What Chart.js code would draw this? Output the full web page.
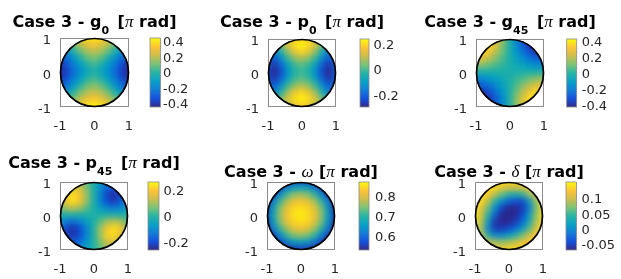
<!DOCTYPE html>
<html>
<head>
<meta charset="utf-8">
<script src="https://cdn.jsdelivr.net/npm/chart.js@4.4.1/dist/chart.umd.min.js"></script>
<style>
  html, body { margin: 0; padding: 0; background: #fff; }
  #wrap { position: relative; width: 621px; height: 279px; overflow: hidden; }
  .panel { position: absolute; }
</style>
</head>
<body>
<div id="wrap"></div>
<script>
// grid of the pupil samples (x left->right, y top->bottom), null = outside the pupil
const gridX = [-1, -0.8, -0.6, -0.4, -0.2, 0, 0.2, 0.4, 0.6, 0.8, 1];
const gridY = [1, 0.8, 0.6, 0.4, 0.2, 0, -0.2, -0.4, -0.6, -0.8, -1];
const axisTicks = [-1, 0, 1];
const n = null;

const g0Phase = [
  [n, n, n, 0.33, 0.42, 0.45, 0.42, 0.33, n, n, n],
  [n, 0.00, 0.13, 0.23, 0.31, 0.35, 0.31, 0.23, 0.13, 0.00, n],
  [n, -0.13, 0.00, 0.12, 0.20, 0.24, 0.20, 0.12, 0.00, -0.13, n],
  [-0.33, -0.23, -0.12, 0.00, 0.10, 0.14, 0.10, 0.00, -0.12, -0.23, -0.33],
  [-0.42, -0.31, -0.20, -0.10, 0.00, 0.06, 0.00, -0.10, -0.20, -0.31, -0.42],
  [-0.45, -0.35, -0.24, -0.14, -0.06, 0.00, -0.06, -0.14, -0.24, -0.35, -0.45],
  [-0.42, -0.31, -0.20, -0.10, 0.00, 0.06, 0.00, -0.10, -0.20, -0.31, -0.42],
  [-0.33, -0.23, -0.12, 0.00, 0.10, 0.14, 0.10, 0.00, -0.12, -0.23, -0.33],
  [n, -0.13, 0.00, 0.12, 0.20, 0.24, 0.20, 0.12, 0.00, -0.13, n],
  [n, 0.00, 0.13, 0.23, 0.31, 0.35, 0.31, 0.23, 0.13, 0.00, n],
  [n, n, n, 0.33, 0.42, 0.45, 0.42, 0.33, n, n, n]
];
const p0Phase = [
  [n, n, n, 0.08, 0.17, 0.19, 0.17, 0.08, n, n, n],
  [n, -0.05, 0.06, 0.16, 0.22, 0.25, 0.22, 0.16, 0.06, -0.05, n],
  [n, -0.14, -0.03, 0.08, 0.17, 0.21, 0.17, 0.08, -0.03, -0.14, n],
  [-0.15, -0.20, -0.11, 0.00, 0.07, 0.10, 0.07, 0.00, -0.11, -0.20, -0.15],
  [-0.19, -0.26, -0.18, -0.07, 0.00, 0.03, 0.00, -0.07, -0.18, -0.26, -0.19],
  [-0.20, -0.28, -0.22, -0.10, -0.02, 0.00, -0.02, -0.10, -0.22, -0.28, -0.20],
  [-0.19, -0.26, -0.18, -0.07, 0.00, 0.03, 0.00, -0.07, -0.18, -0.26, -0.19],
  [-0.15, -0.20, -0.11, 0.00, 0.07, 0.10, 0.07, 0.00, -0.11, -0.20, -0.15],
  [n, -0.14, -0.03, 0.08, 0.17, 0.21, 0.17, 0.08, -0.03, -0.14, n],
  [n, -0.05, 0.06, 0.16, 0.22, 0.25, 0.22, 0.16, 0.06, -0.05, n],
  [n, n, n, 0.08, 0.17, 0.19, 0.17, 0.08, n, n, n]
];
const g45Phase = [
  [n, n, n, 0.30, 0.16, 0.00, -0.15, -0.28, n, n, n],
  [n, 0.45, 0.40, 0.29, 0.15, 0.00, -0.14, -0.28, -0.37, -0.41, n],
  [n, 0.40, 0.33, 0.22, 0.11, 0.00, -0.11, -0.21, -0.31, -0.37, n],
  [0.30, 0.29, 0.22, 0.15, 0.07, 0.00, -0.07, -0.14, -0.21, -0.27, -0.28],
  [0.16, 0.15, 0.11, 0.07, 0.04, 0.00, -0.04, -0.07, -0.11, -0.14, -0.15],
  [0.00, 0.00, 0.00, 0.00, 0.00, 0.00, 0.00, 0.00, 0.00, 0.00, 0.00],
  [-0.15, -0.14, -0.11, -0.07, -0.04, 0.00, 0.04, 0.07, 0.11, 0.15, 0.16],
  [-0.28, -0.27, -0.21, -0.14, -0.07, 0.00, 0.07, 0.15, 0.22, 0.29, 0.30],
  [n, -0.37, -0.31, -0.21, -0.11, 0.00, 0.11, 0.22, 0.33, 0.40, n],
  [n, -0.41, -0.37, -0.28, -0.14, 0.00, 0.15, 0.29, 0.40, 0.45, n],
  [n, n, n, -0.28, -0.15, 0.00, 0.16, 0.30, n, n, n]
];
const p45Phase = [
  [n, n, n, 0.10, 0.05, 0.00, -0.05, -0.10, n, n, n],
  [n, 0.12, 0.17, 0.15, 0.08, 0.00, -0.08, -0.15, -0.18, -0.13, n],
  [n, 0.18, 0.24, 0.20, 0.10, 0.00, -0.10, -0.20, -0.24, -0.18, n],
  [0.10, 0.20, 0.25, 0.20, 0.10, 0.00, -0.10, -0.19, -0.22, -0.17, -0.10],
  [0.05, 0.12, 0.14, 0.11, 0.05, 0.00, -0.05, -0.10, -0.12, -0.10, -0.05],
  [0.00, 0.00, 0.00, 0.00, 0.00, 0.00, 0.00, 0.00, 0.00, 0.00, 0.00],
  [-0.05, -0.12, -0.13, -0.10, -0.05, 0.00, 0.05, 0.11, 0.13, 0.12, 0.05],
  [-0.12, -0.20, -0.23, -0.19, -0.10, 0.00, 0.10, 0.20, 0.24, 0.20, 0.10],
  [n, -0.20, -0.23, -0.19, -0.10, 0.00, 0.10, 0.22, 0.24, 0.17, n],
  [n, -0.13, -0.17, -0.14, -0.07, 0.00, 0.08, 0.15, 0.16, 0.12, n],
  [n, n, n, -0.10, -0.05, 0.00, 0.05, 0.10, n, n, n]
];
const omegaPhase = [
  [n, n, n, 0.55, 0.56, 0.57, 0.56, 0.55, n, n, n],
  [n, 0.55, 0.57, 0.63, 0.67, 0.68, 0.67, 0.63, 0.57, 0.55, n],
  [n, 0.57, 0.65, 0.72, 0.76, 0.77, 0.76, 0.72, 0.65, 0.57, n],
  [0.55, 0.63, 0.72, 0.78, 0.82, 0.83, 0.82, 0.78, 0.72, 0.63, 0.55],
  [0.56, 0.67, 0.76, 0.82, 0.85, 0.86, 0.85, 0.82, 0.76, 0.67, 0.56],
  [0.57, 0.68, 0.77, 0.83, 0.86, 0.87, 0.86, 0.83, 0.77, 0.68, 0.57],
  [0.56, 0.67, 0.76, 0.82, 0.85, 0.86, 0.85, 0.82, 0.76, 0.67, 0.56],
  [0.55, 0.63, 0.72, 0.78, 0.82, 0.83, 0.82, 0.78, 0.72, 0.63, 0.55],
  [n, 0.57, 0.65, 0.72, 0.76, 0.77, 0.76, 0.72, 0.65, 0.57, n],
  [n, 0.55, 0.57, 0.63, 0.67, 0.68, 0.67, 0.63, 0.57, 0.55, n],
  [n, n, n, 0.55, 0.56, 0.57, 0.56, 0.55, n, n, n]
];
const deltaPhase = [
  [n, n, n, 0.15, 0.15, 0.14, 0.14, 0.14, n, n, n],
  [n, 0.15, 0.15, 0.14, 0.12, 0.11, 0.11, 0.11, 0.13, 0.14, n],
  [n, 0.15, 0.13, 0.10, 0.07, 0.05, 0.04, 0.05, 0.08, 0.12, n],
  [0.15, 0.14, 0.10, 0.05, 0.01, -0.02, -0.03, -0.04, 0.01, 0.08, 0.14],
  [0.15, 0.12, 0.07, 0.01, -0.04, -0.06, -0.06, -0.05, -0.01, 0.07, 0.14],
  [0.15, 0.11, 0.05, -0.02, -0.06, -0.06, -0.06, -0.04, 0.01, 0.08, 0.14],
  [0.15, 0.10, 0.02, -0.05, -0.06, -0.06, -0.05, -0.02, 0.03, 0.09, 0.14],
  [0.14, 0.09, 0.00, -0.05, -0.05, -0.04, -0.02, 0.01, 0.06, 0.11, 0.14],
  [n, 0.10, 0.04, 0.00, 0.00, 0.02, 0.04, 0.07, 0.10, 0.13, n],
  [n, 0.13, 0.10, 0.09, 0.08, 0.09, 0.10, 0.12, 0.13, 0.14, n],
  [n, n, n, 0.13, 0.13, 0.14, 0.14, 0.14, n, n, n]
];

// colour limits and colorbar ticks
const g0Limits = [-0.43, 0.46];
const p0Limits = [-0.28, 0.25];
const g45Limits = [-0.41, 0.45];
const p45Limits = [-0.25, 0.27];
const omegaLimits = [0.54, 0.88];
const deltaLimits = [-0.063, 0.158];

const g0Ticks = [-0.4, -0.2, 0, 0.2, 0.4];
const p0Ticks = [-0.2, 0, 0.2];
const g45Ticks = [-0.4, -0.2, 0, 0.2, 0.4];
const p45Ticks = [-0.2, 0, 0.2];
const omegaTicks = [0.6, 0.7, 0.8];
const deltaTicks = [-0.05, 0, 0.05, 0.1];

const titleSymbols = ['g', 'p', 'g', 'p', 'ω', 'δ'];
const titleSubs = ['0', '0', '45', '45', '', ''];

// parula colormap
const parulaStops = [
  [0.00, [53, 42, 135]],
  [0.12, [20, 80, 220]],
  [0.25, [20, 125, 215]],
  [0.37, [8, 160, 200]],
  [0.50, [40, 180, 165]],
  [0.62, [120, 195, 120]],
  [0.75, [205, 190, 75]],
  [0.87, [252, 195, 55]],
  [1.00, [249, 251, 14]]
];
function parula(t) {
  t = Math.max(0, Math.min(1, t));
  for (let i = 1; i < parulaStops.length; i++) {
    const [t1, c1] = parulaStops[i];
    const [t0, c0] = parulaStops[i - 1];
    if (t <= t1) {
      const f = (t - t0) / (t1 - t0);
      const c = c0.map((v, k) => Math.round(v + (c1[k] - v) * f));
      return `rgb(${c[0]},${c[1]},${c[2]})`;
    }
  }
  return 'rgb(249,251,14)';
}

const BOLD = 'bold 16px "DejaVu Sans"';
const SUB = 'bold 11px "DejaVu Sans"';
const GREEK = 'italic 17px "Liberation Serif"';
const TICK_FONT = { family: 'DejaVu Sans', size: 13 };

// panel placement: canvas [x, y, w, h], box [l, t, r, b], colorbar [gap, width, labelPad], title baseline
const layout = [
  { cv: [0, 0, 207, 140], box: [60, 38, 129, 107], cb: [21, 10.5, 34], base: 27 },
  { cv: [207, 0, 207, 140], box: [268, 39, 336, 107], cb: [24, 9, 37.5], base: 27 },
  { cv: [414, 0, 207, 140], box: [476, 39, 544, 107], cb: [22.7, 10, 37.7], base: 27 },
  { cv: [0, 140, 207, 139], box: [60, 182, 128, 250], cb: [20, 11, 35.5], base: 168 },
  { cv: [207, 140, 207, 139], box: [267, 182, 335, 250], cb: [24, 10, 40], base: 177 },
  { cv: [414, 140, 207, 139], box: [475, 182, 543, 250], cb: [23, 10.5, 38.5], base: 177 }
];
const phases = [g0Phase, p0Phase, g45Phase, p45Phase, omegaPhase, deltaPhase];
const limits = [g0Limits, p0Limits, g45Limits, p45Limits, omegaLimits, deltaLimits];
const cbTicks = [g0Ticks, p0Ticks, g45Ticks, p45Ticks, omegaTicks, deltaTicks];

const Y_W = 30, X_H = 28, CB_W = 76;
const ALL = { left: -9999, top: -9999, right: 9999, bottom: 9999 };

function noPad(s) {
  s.paddingTop = 0; s.paddingBottom = 0; s.paddingLeft = 0; s.paddingRight = 0;
}

function titleSegments(i) {
  const segs = [{ t: 'Case 3 - ', f: BOLD }];
  if (titleSubs[i]) {
    segs.push({ t: titleSymbols[i], f: BOLD });
    segs.push({ t: titleSubs[i], f: SUB, dy: 7, after: 3 });
  } else {
    segs.push({ t: titleSymbols[i], f: GREEK });
  }
  segs.push({ t: ' [', f: BOLD }, { t: 'π', f: GREEK }, { t: ' rad]', f: BOLD });
  return segs;
}

const decor = {
  id: 'decor',
  beforeDatasetsDraw(chart) {
    const { ctx, scales: { x, y } } = chart;
    const cx = x.getPixelForValue(0), cy = y.getPixelForValue(0);
    const rad = (x.getPixelForValue(1) - x.getPixelForValue(-1)) / 2;
    ctx.save();
    ctx.beginPath();
    ctx.arc(cx, cy, rad, 0, Math.PI * 2);
    ctx.clip();
  },
  afterDatasetsDraw(chart) {
    const { ctx, chartArea: a, scales: { x, y, yc } } = chart;
    const o = chart.options.plugins.decor;
    // softened pass of the same cells: only their blurred shadows land in the pupil
    ctx.save();
    ctx.translate(-3000, 0);
    ctx.shadowOffsetX = 3000;
    ctx.shadowOffsetY = 0;
    ctx.shadowBlur = 7;
    for (let k = 0; k < 2; k++) {
      chart.getDatasetMeta(0).data.forEach(el => {
        ctx.shadowColor = el.options.backgroundColor;
        el.draw(ctx, ALL);
      });
    }
    ctx.restore();
    ctx.restore();

    // axes box
    ctx.save();
    ctx.strokeStyle = '#8c8c8c';
    ctx.lineWidth = 1;
    ctx.strokeRect(Math.round(a.left) + 0.5, Math.round(a.top) + 0.5, Math.round(a.width) - 1, Math.round(a.height) - 1);
    // pupil outline
    const cx = x.getPixelForValue(0), cy = y.getPixelForValue(0);
    const rad = (x.getPixelForValue(1) - x.getPixelForValue(-1)) / 2;
    ctx.beginPath();
    ctx.arc(cx, cy, rad - 0.5, 0, Math.PI * 2);
    ctx.strokeStyle = '#000';
    ctx.lineWidth = 1.7;
    ctx.stroke();

    // colorbar
    const [lo, hi] = o.limits;
    const top = yc.getPixelForValue(hi), bot = yc.getPixelForValue(lo);
    const left = yc.left + o.cb[0];
    const g = ctx.createLinearGradient(0, bot, 0, top);
    parulaStops.forEach(([t]) => g.addColorStop(t, parula(t)));
    ctx.fillStyle = g;
    ctx.fillRect(left, top, o.cb[1], bot - top);
    ctx.strokeStyle = '#8c8c8c';
    ctx.lineWidth = 0.8;
    ctx.strokeRect(left, top, o.cb[1], bot - top);

    // title
    const segs = o.title;
    let total = 0;
    segs.forEach(s => { ctx.font = s.f; s.w = ctx.measureText(s.t).width + (s.after || 0); total += s.w; });
    let tx = (a.left + a.right) / 2 - total / 2;
    ctx.fillStyle = '#000';
    ctx.textBaseline = 'alphabetic';
    ctx.textAlign = 'left';
    segs.forEach(s => {
      ctx.font = s.f;
      ctx.fillText(s.t, tx, o.base + (s.dy || 0));
      tx += s.w;
    });
    ctx.restore();
  }
};

const wrap = document.getElementById('wrap');

layout.forEach((L, i) => {
  const [cvx, cvy, cvw, cvh] = L.cv;
  const [bl, bt, br, bb] = L.box;
  const div = document.createElement('div');
  div.className = 'panel';
  div.style.left = cvx + 'px';
  div.style.top = cvy + 'px';
  div.style.width = cvw + 'px';
  div.style.height = cvh + 'px';
  const canvas = document.createElement('canvas');
  canvas.width = cvw;
  canvas.height = cvh;
  div.appendChild(canvas);
  wrap.appendChild(div);

  const [lo, hi] = limits[i];
  const points = [];
  gridY.forEach((yv, r) => gridX.forEach((xv, c) => {
    const v = phases[i][r][c];
    if (v !== null) points.push({ x: xv, y: yv, v: v });
  }));

  const axisCommon = {
    type: 'linear',
    min: -1,
    max: 1,
    grid: { display: false, drawTicks: false },
    border: { display: false },
    afterBuildTicks: s => { s.ticks = axisTicks.map(v => ({ value: v })); },
    ticks: { font: TICK_FONT, color: '#262626', autoSkip: false, maxRotation: 0, callback: v => String(v) }
  };

  new Chart(canvas, {
    type: 'scatter',
    data: {
      datasets: [{
        data: points,
        pointStyle: 'rect',
        pointBorderWidth: 0,
        pointRadius: ctx => {
          const s = ctx.chart.scales.x;
          return Math.abs(s.getPixelForValue(0.2) - s.getPixelForValue(0)) / Math.SQRT2 * 1.12;
        },
        pointBackgroundColor: ctx => parula((ctx.raw.v - lo) / (hi - lo)),
        clip: false
      }]
    },
    options: {
      responsive: false,
      animation: false,
      events: [],
      layout: {
        padding: {
          left: bl - cvx - Y_W,
          top: bt - cvy,
          right: Math.max(0, cvx + cvw - br - CB_W),
          bottom: cvy + cvh - bb - X_H
        }
      },
      scales: {
        x: Object.assign({}, axisCommon, {
          position: 'bottom',
          ticks: Object.assign({}, axisCommon.ticks, { padding: 12 }),
          afterFit: s => { s.height = X_H; noPad(s); }
        }),
        y: Object.assign({}, axisCommon, {
          position: 'left',
          ticks: Object.assign({}, axisCommon.ticks, { padding: 9, labelOffset: 3 }),
          afterFit: s => { s.width = Y_W; noPad(s); }
        }),
        yc: {
          type: 'linear',
          position: 'right',
          min: lo,
          max: hi,
          grid: { display: false, drawTicks: false },
          border: { display: false },
          afterBuildTicks: s => { s.ticks = cbTicks[i].map(v => ({ value: v })); },
          ticks: { font: TICK_FONT, color: '#262626', padding: L.cb[2], autoSkip: false, callback: v => String(v) },
          afterFit: s => { s.width = CB_W; noPad(s); }
        }
      },
      plugins: {
        legend: { display: false },
        tooltip: { enabled: false },
        decor: { limits: limits[i], cb: L.cb, base: L.base - cvy, title: titleSegments(i) }
      }
    },
    plugins: [decor]
  });
});
</script>
</body>
</html>
